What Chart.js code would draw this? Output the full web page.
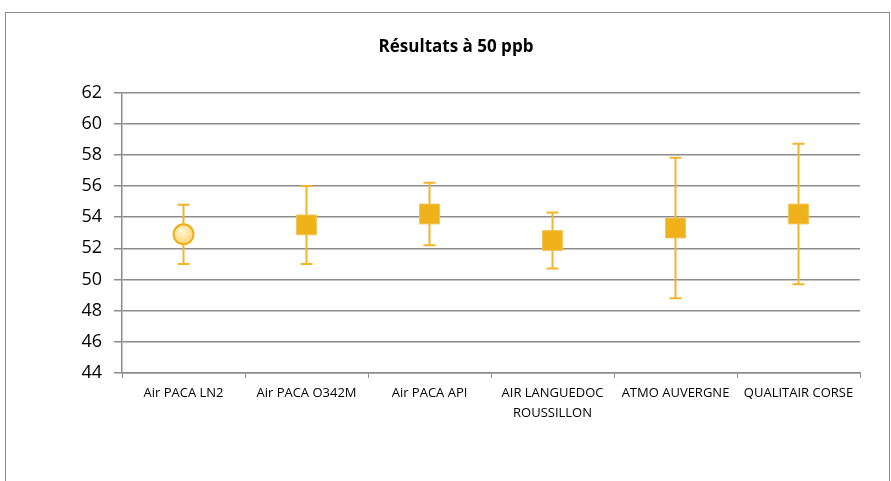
<!DOCTYPE html>
<html>
<head>
<meta charset="utf-8">
<script src="https://cdn.jsdelivr.net/npm/chart.js@4.4.1/dist/chart.umd.min.js"></script>
<style>
  html, body { margin: 0; padding: 0; background: #ffffff; overflow: hidden; }
  #frame { position: absolute; left: 5px; top: 12px; width: 885px; height: 520px; border: 1px solid #8c8c8c; box-sizing: border-box; }
  #wrap { position: absolute; left: 0; top: 0; width: 891px; height: 481px; }
</style>
</head>
<body>
<div id="frame"></div>
<div id="wrap"><canvas id="c" width="891" height="481"></canvas></div>
<script>
const categories = ["Air PACA LN2", "Air PACA O342M", "Air PACA API", ["AIR LANGUEDOC", "ROUSSILLON"], "ATMO AUVERGNE", "QUALITAIR CORSE"];
const values = [52.9, 53.5, 54.2, 52.5, 53.3, 54.2];
const lowValues = [51.0, 51.0, 52.2, 50.7, 48.8, 49.7];
const highValues = [54.8, 56.0, 56.2, 54.3, 57.8, 58.7];
const yTicks = [44, 46, 48, 50, 52, 54, 56, 58, 60, 62];
const markerStyles = ["circle", "rect", "rect", "rect", "rect", "rect"];

const errorBarPlugin = {
  id: "errorBars",
  beforeDatasetsDraw(chart) {
    const ctx = chart.ctx;
    const meta = chart.getDatasetMeta(0);
    const yScale = chart.scales.y;
    ctx.save();
    ctx.strokeStyle = "#F3B52A";
    ctx.lineWidth = 2;
    meta.data.forEach((pt, i) => {
      const x = pt.x;
      const yl = yScale.getPixelForValue(lowValues[i]);
      const yh = yScale.getPixelForValue(highValues[i]);
      ctx.beginPath();
      ctx.moveTo(x, yl); ctx.lineTo(x, yh);
      ctx.moveTo(x - 6, yl); ctx.lineTo(x + 6, yl);
      ctx.moveTo(x - 6, yh); ctx.lineTo(x + 6, yh);
      ctx.stroke();
    });
    ctx.restore();
  }
};

function circleFill(context) {
  const el = context.element;
  const c = context.chart.ctx;
  if (!el || el.x === undefined || isNaN(el.x)) return "#FFE69A";
  const g = c.createRadialGradient(el.x - 2, el.y - 4, 1, el.x, el.y, 11);
  g.addColorStop(0, "#FFF6D8");
  g.addColorStop(1, "#FFD46A");
  return g;
}

new Chart(document.getElementById("c"), {
  type: "line",
  data: {
    labels: categories,
    datasets: [{
      data: values,
      showLine: false,
      pointStyle: markerStyles,
      pointRadius: markerStyles.map(s => s === "circle" ? 10 : 14),
      pointHoverRadius: markerStyles.map(s => s === "circle" ? 10 : 14),
      pointBackgroundColor: (ctx) => markerStyles[ctx.dataIndex] === "circle" ? circleFill(ctx) : "#F0B21B",
      borderColor: markerStyles.map(s => s === "circle" ? "#EFAE1C" : "#F4C25A"),
      borderWidth: markerStyles.map(s => s === "circle" ? 2 : 1)
    }]
  },
  options: {
    responsive: false,
    animation: false,
    events: [],
    layout: { padding: { top: 0, right: 31, bottom: 0, left: 52 } },
    plugins: {
      legend: { display: false },
      tooltip: { enabled: false },
      title: {
        display: true,
        text: "Résultats à 50 ppb",
        color: "#000000",
        font: { family: "'Open Sans'", size: 17, weight: "bold" },
        padding: { top: 37, bottom: 35 }
      }
    },
    scales: {
      x: {
        type: "category",
        offset: true,
        afterFit(scale) { scale.height = 108; },
        grid: { offset: true, drawOnChartArea: false, drawTicks: true, tickLength: 5, color: "#8c8c8c", lineWidth: 1 },
        border: { color: "#8c8c8c", width: 1.5 },
        ticks: { color: "#000000", font: { family: "'Open Sans'", size: 13, lineHeight: 1.55 }, padding: 5, maxRotation: 0, autoSkip: false }
      },
      y: {
        min: 44,
        max: 62,
        afterFit(scale) { scale.width = 70; },
        afterBuildTicks(scale) { scale.ticks = yTicks.map(v => ({ value: v })); },
        grid: { color: "#8c8c8c", lineWidth: 1.5, tickLength: 8, drawTicks: true },
        border: { color: "#8c8c8c", width: 1.5 },
        ticks: { color: "#000000", font: { family: "'Open Sans'", size: 18 }, padding: 12 }
      }
    }
  },
  plugins: [errorBarPlugin]
});
</script>
</body>
</html>
